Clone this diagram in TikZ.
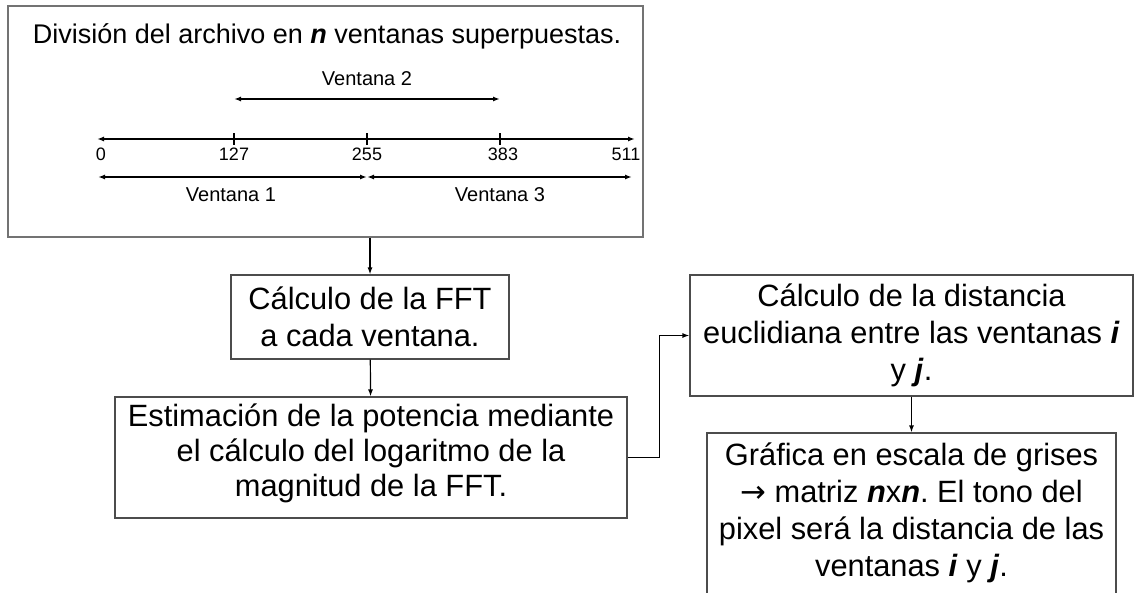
\documentclass[tikz,border=0pt]{standalone}
\usepackage{fontspec}
\setmainfont{Liberation Sans}
\newfontfamily\symfont{DejaVu Sans}
\usetikzlibrary{arrows.meta,positioning}
\newcommand\bi[1]{\textbf{\textit{#1}}}
\frenchspacing

\begin{document}
\begin{tikzpicture}[x=1pt,y=-1pt,
  box/.style = {draw=black!70, line width=1.2pt
    , fill=white, align=center, inner sep=0pt
    , font=\fontsize{30.8}{37}\selectfont},
  num/.style = {anchor=base, inner sep=0pt, font=\fontsize{18}{21}\selectfont},
  ven/.style = {anchor=base, inner sep=0pt, font=\fontsize{20}{24}\selectfont},
  eje/.style = {line width=1.4pt, {Latex[length=7pt,width=5pt]}-{Latex[length=7pt,width=5pt]}},
  arr/.style = {line width=1.2pt, -{Latex[length=7pt,width=5pt]}}]

 \useasboundingbox (0,0) rectangle (1134,592);

 % ventanas
 \node[box, draw=black!55, minimum width=635pt, minimum height=231pt] (div) at (325.5,121.5) {};
 \node[anchor=base, font=\fontsize{27}{32}\selectfont] (titulo) at (327,43)
   {División del archivo en \bi{n} ventanas superpuestas.};

 \coordinate (e0) at (97,139);
 \coordinate (e511) at (635,139);
 \draw[eje] (e0) -- (e511);
 \foreach \x in {234,367,500}
   \draw[line width=1.4pt] (\x,133) -- (\x,145);
 \foreach \v/\x in {0/101,127/234,255/367,383/503,511/626}
   \node[num] (n\v) at (\x,160) {\v};

 \coordinate (v2a) at (234,99);
 \coordinate (v2b) at (500,99);
 \draw[eje] (v2a) -- (v2b);
 \node[ven] (v2) at (367,85) {Ventana 2};

 \coordinate (v1a) at (98,177);
 \coordinate (v1b) at (367,177);
 \coordinate (v3b) at (632,177);
 \draw[eje] (v1a) -- (v1b);
 \draw[eje] (v1b) -- (v3b);
 \node[ven] (v1) at (231,201) {Ventana 1};
 \node[ven] (v3) at (500,201) {Ventana 3};

 % pasos
 \node[box, minimum width=278pt, minimum height=84pt] (fft) at (370,317)
   {Cálculo de la FFT\\ a cada ventana.};
 \node[box, minimum width=512pt, minimum height=121pt
   , font=\fontsize{30.8}{35}\selectfont] (est) at (371,457.5)
   {Estimación de la potencia mediante\\ el cálculo del logaritmo de la\\
    magnitud de la FFT.\rule[-14pt]{0pt}{14pt}};
 \node[box, minimum width=443pt, minimum height=121pt] (dist) at (911.5,335.5)
   {Cálculo de la distancia\\ euclidiana entre las ventanas \bi{i}\\ y \bi{j}.};
 \node[box, minimum width=409pt, minimum height=172pt] (graf) at (911.5,519)
   {Gráfica en escala de grises\\ {\symfont →} matriz \bi{n}x\bi{n}. El tono del\\
    pixel será la distancia de las\\ ventanas \bi{i} y \bi{j}.\rule[-18pt]{0pt}{18pt}};

 \begin{scope}[arr]
  \draw (fft.north |- div.south) -- (fft.north);
  \draw (fft) -- (est);
  \draw (est.east) -- ++(32,0) |- (dist.west);
  \draw (dist) -- (graf);
 \end{scope}
\end{tikzpicture}
\end{document}
